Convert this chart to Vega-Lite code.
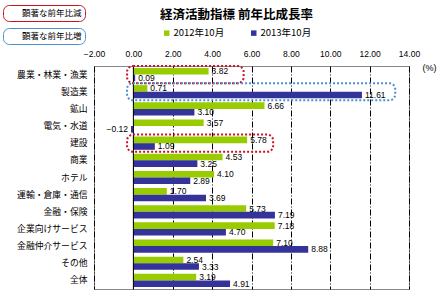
{
  "$schema": "https://vega.github.io/schema/vega-lite/v6.json",
  "width": 315,
  "height": 223,
  "autosize": {"type": "none"},
  "padding": {"left": 94, "top": 66, "right": 37, "bottom": 16},
  "background": "white",
  "title": {
    "text": "経済活動指標  前年比成長率",
    "font": "Noto Sans CJK JP",
    "fontSize": 12.5,
    "fontWeight": "bold",
    "color": "#000000",
    "anchor": "middle",
    "dx": -15,
    "offset": -17
  },
  "datasets": {
    "bars": [
      {"cat": "農業・林業・漁業", "year": "2012年10月", "v": 3.82},
      {"cat": "農業・林業・漁業", "year": "2013年10月", "v": 0.09},
      {"cat": "製造業", "year": "2012年10月", "v": 0.71},
      {"cat": "製造業", "year": "2013年10月", "v": 11.61},
      {"cat": "鉱山", "year": "2012年10月", "v": 6.66},
      {"cat": "鉱山", "year": "2013年10月", "v": 3.10},
      {"cat": "電気・水道", "year": "2012年10月", "v": 3.57},
      {"cat": "電気・水道", "year": "2013年10月", "v": -0.12},
      {"cat": "建設", "year": "2012年10月", "v": 5.78},
      {"cat": "建設", "year": "2013年10月", "v": 1.09},
      {"cat": "商業", "year": "2012年10月", "v": 4.53},
      {"cat": "商業", "year": "2013年10月", "v": 3.25},
      {"cat": "ホテル", "year": "2012年10月", "v": 4.10},
      {"cat": "ホテル", "year": "2013年10月", "v": 2.89},
      {"cat": "運輸・倉庫・通信", "year": "2012年10月", "v": 1.70},
      {"cat": "運輸・倉庫・通信", "year": "2013年10月", "v": 3.69},
      {"cat": "金融・保険", "year": "2012年10月", "v": 5.73},
      {"cat": "金融・保険", "year": "2013年10月", "v": 7.19},
      {"cat": "企業向けサービス", "year": "2012年10月", "v": 7.18},
      {"cat": "企業向けサービス", "year": "2013年10月", "v": 4.70},
      {"cat": "金融仲介サービス", "year": "2012年10月", "v": 7.10},
      {"cat": "金融仲介サービス", "year": "2013年10月", "v": 8.88},
      {"cat": "その他", "year": "2012年10月", "v": 2.54},
      {"cat": "その他", "year": "2013年10月", "v": 3.33},
      {"cat": "全体", "year": "2012年10月", "v": 3.19},
      {"cat": "全体", "year": "2013年10月", "v": 4.91}
    ],
    "notes": [
      {"cat": "農業・林業・漁業", "lo": -0.32, "hi": 5.6, "ann": "顕著な前年比減"},
      {"cat": "製造業", "lo": -0.32, "hi": 13.3, "ann": "顕著な前年比増"},
      {"cat": "建設", "lo": -0.32, "hi": 7.1, "ann": "顕著な前年比減"}
    ],
    "zero": [{"x": 0}]
  },
  "layer": [
    {
      "data": {"name": "bars"},
      "mark": {"type": "bar"},
      "encoding": {
        "y": {
          "field": "cat", "type": "nominal", "sort": null,
          "scale": {"paddingInner": 0, "paddingOuter": 0},
          "axis": {
            "title": null, "ticks": false, "domain": false,
            "labelFont": "Noto Sans CJK JP", "labelFontSize": 8.8,
            "labelColor": "#000000", "labelPadding": 7, "labelOverlap": false
          }
        },
        "yOffset": {
          "field": "year", "type": "nominal",
          "scale": {"paddingInner": 0, "paddingOuter": 0.3}
        },
        "x": {
          "field": "v", "type": "quantitative",
          "scale": {"domain": [-2, 14], "nice": false, "zero": false},
          "axis": {
            "orient": "top",
            "values": [-2, 0, 2, 4, 6, 8, 10, 12, 14],
            "tickCount": 12,
            "format": ".2f",
            "ticks": false, "domain": false,
            "labelOverlap": false, "labelBound": false, "labelFlush": false,
            "labelFont": "Liberation Sans", "labelFontSize": 8.5,
            "labelColor": "#000000", "labelPadding": 8,
            "grid": true,
            "gridColor": "#000000",
            "gridDash": [6, 2, 1, 2],
            "gridWidth": 1,
            "title": "(%)",
            "titleFont": "Liberation Sans",
            "titleFontSize": 9,
            "titleFontWeight": "normal",
            "titleColor": "#000000",
            "titleAlign": "right",
            "titleBaseline": "middle",
            "titleAnchor": "end",
            "titleX": 342,
            "titleY": 1
          }
        },
        "color": {
          "field": "year", "type": "nominal",
          "scale": {"domain": ["2012年10月", "2013年10月"], "range": ["#99cc00", "#333399"]},
          "legend": {
            "title": null, "orient": "none", "direction": "horizontal",
            "legendX": 68, "legendY": -38, "padding": 0,
            "symbolType": "square", "symbolSize": 30, "symbolStrokeWidth": 0,
            "labelFont": "Noto Sans CJK JP", "labelFontSize": 9.5, "labelColor": "#000000",
            "labelOffset": 2, "columnPadding": 24
          }
        }
      }
    },
    {
      "data": {"name": "zero"},
      "mark": {"type": "rule", "color": "#000000", "strokeWidth": 1},
      "encoding": {"x": {"field": "x", "type": "quantitative"}}
    },
    {
      "data": {"name": "bars"},
      "transform": [{"filter": "datum.v >= 0"}],
      "mark": {"type": "text", "align": "left", "baseline": "middle", "dx": 3, "font": "Liberation Sans", "fontSize": 8.5, "color": "#000000"},
      "encoding": {
        "y": {"field": "cat", "type": "nominal", "sort": null},
        "yOffset": {"field": "year", "type": "nominal"},
        "x": {"field": "v", "type": "quantitative"},
        "text": {"field": "v", "type": "quantitative", "format": ".2f"}
      }
    },
    {
      "data": {"name": "bars"},
      "transform": [{"filter": "datum.v < 0"}],
      "mark": {"type": "text", "align": "right", "baseline": "middle", "dx": -3, "font": "Liberation Sans", "fontSize": 8.5, "color": "#000000"},
      "encoding": {
        "y": {"field": "cat", "type": "nominal", "sort": null},
        "yOffset": {"field": "year", "type": "nominal"},
        "x": {"field": "v", "type": "quantitative"},
        "text": {"field": "v", "type": "quantitative", "format": ".2f"}
      }
    },
    {
      "data": {"name": "notes"},
      "transform": [{"filter": "datum.ann == '顕著な前年比減'"}],
      "mark": {"type": "rect", "fill": null, "fillOpacity": 0, "strokeWidth": 2, "strokeDash": [2, 2], "cornerRadius": 6},
      "encoding": {
        "y": {"field": "cat", "type": "nominal", "sort": null},
        "x": {"field": "lo", "type": "quantitative"},
        "x2": {"field": "hi"},
        "stroke": {
          "field": "ann", "type": "nominal",
          "scale": {"domain": ["顕著な前年比減"], "range": ["#cc1122"]},
          "legend": {
            "title": null, "orient": "none", "legendX": -91, "legendY": -61,
            "padding": 3, "cornerRadius": 6,
            "strokeColor": "#cc1122",
            "symbolType": "stroke", "symbolSize": 100, "symbolOpacity": 0, "symbolStrokeWidth": 0,
            "labelOffset": 6, "labelFont": "Noto Sans CJK JP", "labelFontSize": 8.5, "labelColor": "#000000",
            "labelExpr": "datum.label + '\u3000\u3000'",
            "encode": {"legend": {"update": {"strokeDash": {"value": [2, 2]}, "strokeWidth": {"value": 2}}}}
          }
        }
      }
    },
    {
      "data": {"name": "notes"},
      "transform": [{"filter": "datum.ann == '顕著な前年比増'"}],
      "mark": {"type": "rect", "fill": null, "fillOpacity": 0, "strokeWidth": 2, "strokeDash": [2, 2], "cornerRadius": 6},
      "encoding": {
        "y": {"field": "cat", "type": "nominal", "sort": null},
        "x": {"field": "lo", "type": "quantitative"},
        "x2": {"field": "hi"},
        "stroke": {
          "field": "ann", "type": "nominal",
          "scale": {"domain": ["顕著な前年比増"], "range": ["#4a90d0"]},
          "legend": {
            "title": null, "orient": "none", "legendX": -91, "legendY": -38,
            "padding": 3, "cornerRadius": 6,
            "strokeColor": "#4a90d0",
            "symbolType": "stroke", "symbolSize": 100, "symbolOpacity": 0, "symbolStrokeWidth": 0,
            "labelOffset": 6, "labelFont": "Noto Sans CJK JP", "labelFontSize": 8.5, "labelColor": "#000000",
            "labelExpr": "datum.label + '\u3000\u3000'",
            "encode": {"legend": {"update": {"strokeDash": {"value": [2, 2]}, "strokeWidth": {"value": 2}}}}
          }
        }
      }
    }
  ],
  "resolve": {"scale": {"stroke": "independent"}},
  "config": {
    "view": {"stroke": "#888888", "strokeWidth": 1},
    "font": "Noto Sans CJK JP"
  }
}
